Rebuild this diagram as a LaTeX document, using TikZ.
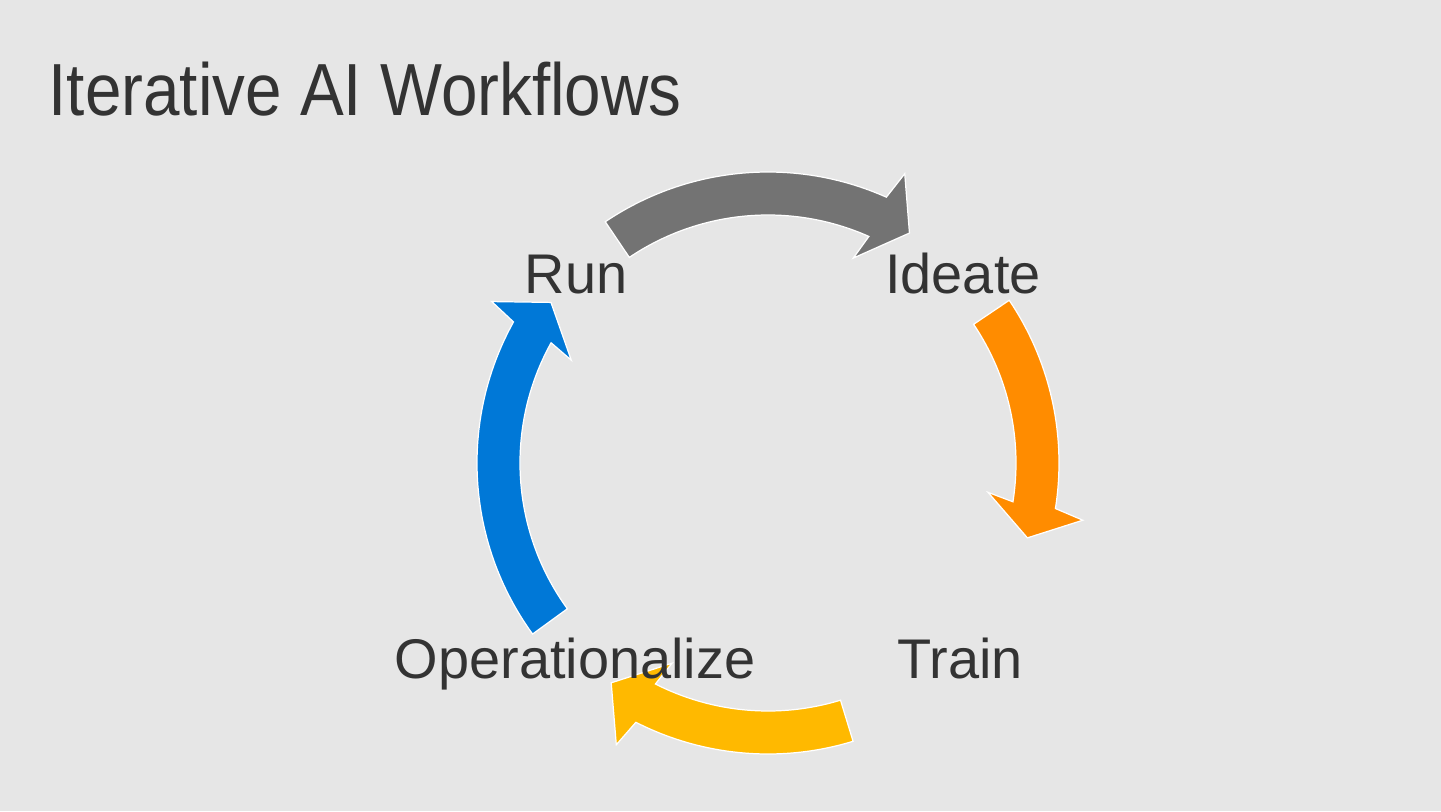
\documentclass[tikz,border=0pt]{standalone}
\usepackage{fontspec}
\setmainfont{Liberation Sans}
\newfontfamily\titlefont[FakeStretch=0.888]{Liberation Sans}
\usepackage{xcolor}
\usetikzlibrary{positioning}
\definecolor{hintergrund}{HTML}{E6E6E6}
\definecolor{schrift}{HTML}{333333}
\definecolor{grau}{HTML}{737373}
\definecolor{orange}{HTML}{FF8C00}
\definecolor{gelb}{HTML}{FFB900}
\definecolor{blau}{HTML}{0078D7}
% #1 Farbe, #2 Anfang, #3 Ende des Schafts, #4 Spitze (Winkel)
\newcommand{\Kreispfeil}[4]{\filldraw[#1,draw=white,line width=0.35pt,line join=miter]
  (#2:248) arc[start angle=#2,end angle=#3,radius=248]
  -- ({#3+1.4}:222) -- (#4:270) -- ({#3-1.3}:320) -- (#3:291)
  arc[start angle=#3,end angle=#2,radius=291] -- cycle;}

\begin{document}
\begin{tikzpicture}[x=0.01cm,y=0.01cm,
  schritt/.style={text=schrift,font=\fontsize{15.9pt}{19pt}\selectfont,anchor=base,inner sep=0pt}]
  \fill[hintergrund] (0,0) rectangle (1441,811);
  \useasboundingbox (0,0) rectangle (1441,811);
  % Titel
  \node[text=schrift,font=\titlefont\fontsize{21pt}{25pt}\selectfont,anchor=base west,inner sep=0pt]
    (titel) at (48,696) {Iterative AI Workflows};
  % Kreislauf
  \begin{scope}[shift={(768,348)}]
    \Kreispfeil{grau}{124}{66}{58.4}
    \Kreispfeil{orange}{34}{-9}{-16.1}
    \Kreispfeil{gelb}{-73}{-117}{-125.5}
    \Kreispfeil{blau}{216}{151}{143.5}
  \end{scope}
  \node[schritt] (run) at (576,518) {Run};
  \node[schritt] (ideate) at (963,518) {Ideate};
  \node[schritt] (operationalize) at (575,133) {Operationalize};
  \node[schritt] (train) at (960,133) {Train};
\end{tikzpicture}
\end{document}
